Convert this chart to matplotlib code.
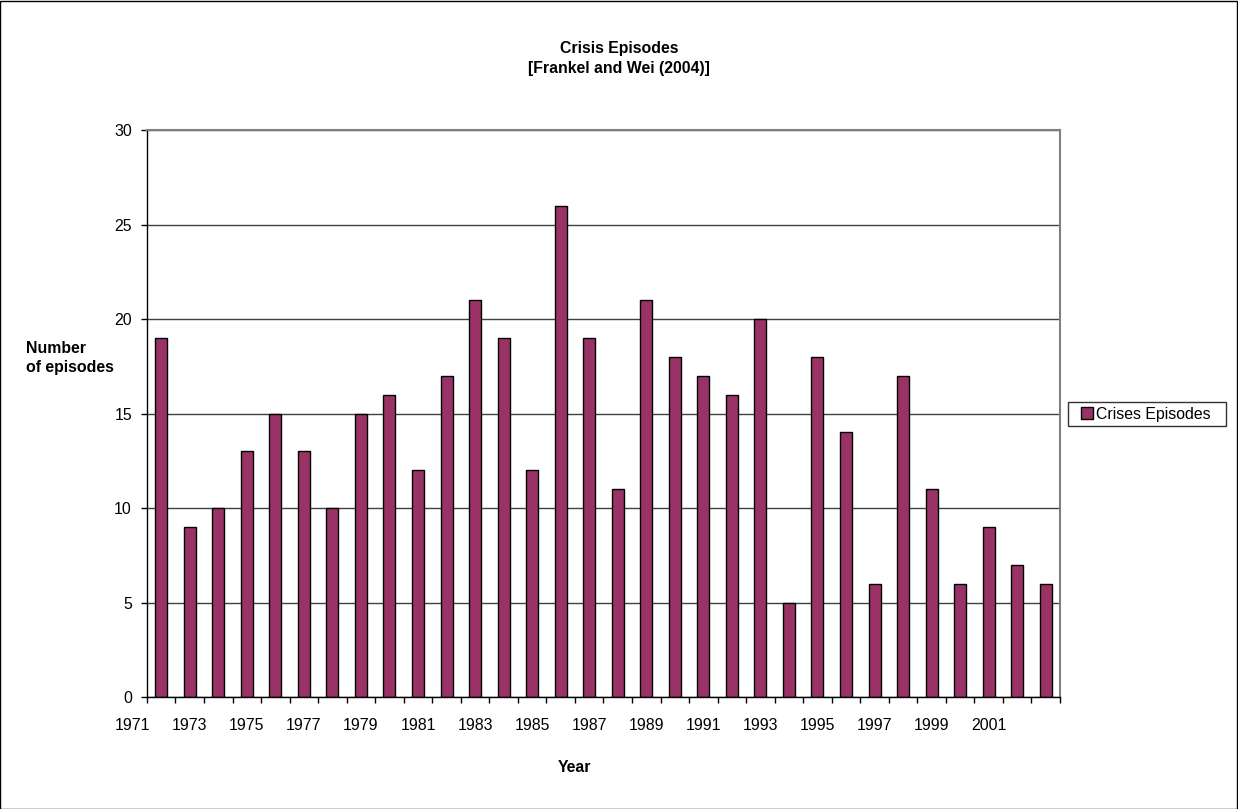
#!/usr/bin/python3

"""
Bar chart of crisis episodes per year (Frankel and Wei, 2004).
Saved as out.png
"""

import matplotlib
matplotlib.use("Agg")
import matplotlib.pyplot as plt
from matplotlib import patches
from matplotlib.lines import Line2D
from matplotlib.transforms import offset_copy
import numpy as np

# Data
years = list(range(1972, 2004))
episodes = [19, 9, 10, 13, 15, 13, 10, 15, 16, 12, 17, 21, 19, 12, 26, 19,
            11, 21, 18, 17, 16, 20, 5, 18, 14, 6, 17, 11, 6, 9, 7, 6]
yearLabels = list(range(1971, 2002, 2))
yTicks = [0, 5, 10, 15, 20, 25, 30]
seriesName = "Crises Episodes"

BAR_COLOR = "#993366"
FONT_SIZE = 11.4


def main():
    plt.rcParams['font.family'] = ['Liberation Sans', 'DejaVu Sans']
    fig = plt.figure(figsize=(12.38, 8.09), dpi=100)
    ax = fig.add_axes([0.1187, 0.1384, 0.7375, 0.7009])

    # Gridlines first so bars sit on top
    ax.set_axisbelow(True)
    ax.yaxis.grid(True, color="#404040", linewidth=1.0)

    ax.bar(years, episodes, width=0.42, color=BAR_COLOR, edgecolor="black",
           linewidth=1.0)

    ax.set_ylim(0, 30)
    ax.set_yticks(yTicks)
    ax.set_xlim(years[0] - 0.5, years[-1] + 0.5)

    # Category axis: tick marks on the boundaries, labels placed by hand
    ax.set_xticks([])
    ax.set_xticks(np.arange(years[0] - 0.5, years[-1] + 1.0, 1.0), minor=True)
    ax.tick_params(axis="x", which="minor", length=4.3, width=1.0, color="black")
    ax.tick_params(axis="y", length=4.3, width=1.0, pad=6.5,
                   labelsize=FONT_SIZE, color="black")
    trans = offset_copy(ax.get_xaxis_transform(), fig=fig, x=0, y=-28 * 0.72,
                        units="points")
    for yr in yearLabels:
        ax.text(yr, 0, str(yr), transform=trans, ha="center", va="center",
                fontsize=FONT_SIZE, clip_on=False)

    for side in ["left", "bottom"]:
        ax.spines[side].set_color("black")
        ax.spines[side].set_linewidth(1.0)
    for side in ["top", "right"]:
        ax.spines[side].set_color("#808080")
        ax.spines[side].set_linewidth(1.5)

    # Titles and axis labels
    fig.text(0.5, 0.9277, "Crisis Episodes\n[Frankel and Wei (2004)]",
             ha="center", va="center", fontsize=FONT_SIZE, fontweight="bold",
             linespacing=1.45)
    fig.text(0.021, 0.5575, "Number\nof episodes", ha="left", va="center",
             fontsize=FONT_SIZE, fontweight="bold", multialignment="left",
             linespacing=1.3)
    fig.text(0.4637, 0.0507, "Year", ha="center", va="center",
             fontsize=FONT_SIZE, fontweight="bold")

    # Legend box to the right of the plot
    handle = Line2D([], [], linestyle="none", marker="s", markersize=8,
                    markerfacecolor=BAR_COLOR, markeredgecolor="black",
                    markeredgewidth=1.0)
    leg = ax.legend([handle], [seriesName], loc="center",
                    bbox_to_anchor=(1068 / 1238, 1 - 426 / 809,
                                    158 / 1238, 24 / 809),
                    bbox_transform=fig.transFigure, mode="expand",
                    fontsize=FONT_SIZE, frameon=True, fancybox=False,
                    borderpad=0.3, handlelength=1.75, handletextpad=-0.3,
                    borderaxespad=0)
    leg.get_frame().set_edgecolor("black")
    leg.get_frame().set_linewidth(1.0)

    # Outer border round the whole chart
    fig.patches.append(patches.Rectangle((0.0004, 0.0006), 0.9988, 0.9982,
                                         transform=fig.transFigure,
                                         fill=False, edgecolor="black",
                                         linewidth=1.0))

    fig.savefig("out.png", dpi=100)


if __name__ == '__main__':
    main()
